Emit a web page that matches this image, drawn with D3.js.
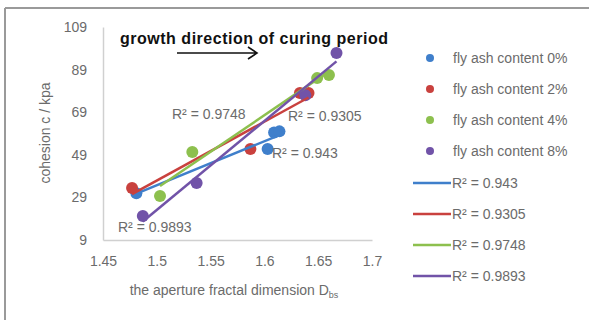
<!DOCTYPE html>
<html>
<head>
<meta charset="utf-8">
<script src="https://cdn.jsdelivr.net/npm/d3@7"></script>
<style>
  body { margin: 0; background: #fff; }
  text { font-family: "Liberation Sans", Arial, sans-serif; }
</style>
</head>
<body>
<div id="chart"></div>
<script>
// series names, colours
var seriesNames = ["fly ash content 0%", "fly ash content 2%", "fly ash content 4%", "fly ash content 8%"];
var seriesColors = ["#3F7FCB", "#C9413E", "#8DC04E", "#7153A8"];
var xValues = [
  [1.481, 1.603, 1.609, 1.614],
  [1.477, 1.587, 1.633, 1.641],
  [1.503, 1.533, 1.649, 1.660],
  [1.487, 1.537, 1.638, 1.667]
];
var yValues = [
  [31.0, 51.7, 59.5, 60.0],
  [33.4, 51.7, 78.0, 78.0],
  [29.7, 50.3, 85.0, 86.5],
  [20.3, 35.8, 77.0, 96.8]
];
var r2Labels = ["R² = 0.943", "R² = 0.9305", "R² = 0.9748", "R² = 0.9893"];
var xTicks = [1.45, 1.5, 1.55, 1.6, 1.65, 1.7];
var yTicks = [9, 29, 49, 69, 89, 109];

var w = 589, h = 320;
var svg = d3.select("#chart").append("svg")
  .attr("width", w)
  .attr("height", h);

// chart frame (only top and left visible)
svg.append("line").attr("x1", 5).attr("y1", 8).attr("x2", w).attr("y2", 8)
  .attr("stroke", "#9a9a9a").attr("stroke-width", 2);
svg.append("line").attr("x1", 5).attr("y1", 8).attr("x2", 5).attr("y2", h)
  .attr("stroke", "#9a9a9a").attr("stroke-width", 2);

var x = d3.scaleLinear().domain([1.45, 1.7]).range([103, 372]);
var y = d3.scaleLinear().domain([9, 109]).range([240, 27]);

// axes
var xAxis = svg.append("g")
  .attr("transform", "translate(0," + y(9) + ")")
  .call(d3.axisBottom(x).tickValues(xTicks).tickSize(0).tickPadding(16)
    .tickFormat(function(d) { return String(d); }));
var yAxis = svg.append("g")
  .attr("transform", "translate(" + x(1.45) + ",0)")
  .call(d3.axisLeft(y).tickValues(yTicks).tickSize(0).tickPadding(16));
[xAxis, yAxis].forEach(function(a) {
  a.select(".domain").attr("stroke", "#d0d0d0").attr("stroke-width", 1.5);
  a.selectAll("text")
    .attr("font-size", 14)
    .attr("fill", "#6b6b6b")
    .attr("font-family", "'Liberation Sans', Arial, sans-serif");
});

// axis titles
svg.append("text")
  .attr("transform", "translate(50,133) rotate(-90)")
  .attr("text-anchor", "middle")
  .attr("font-size", 14)
  .attr("fill", "#6b6b6b")
  .text("cohesion c / kpa");

var xt = svg.append("text")
  .attr("x", 234)
  .attr("y", 295)
  .attr("text-anchor", "middle")
  .attr("font-size", 14)
  .attr("fill", "#6b6b6b");
xt.append("tspan").text("the aperture fractal dimension D");
xt.append("tspan").attr("font-size", 9).attr("dy", 3).text("bs");

// linear fit over each series
function fit(xs, ys) {
  var n = xs.length;
  var mx = d3.mean(xs), my = d3.mean(ys);
  var sxy = 0, sxx = 0;
  for (var i = 0; i < n; i++) {
    sxy += (xs[i] - mx) * (ys[i] - my);
    sxx += (xs[i] - mx) * (xs[i] - mx);
  }
  var b = sxy / sxx;
  return { a: my - b * mx, b: b };
}

// points
for (var s = 0; s < seriesNames.length; s++) {
  svg.append("g").selectAll("circle")
    .data(d3.range(xValues[s].length))
    .enter()
    .append("circle")
    .attr("cx", function(i) { return x(xValues[s][i]); })
    .attr("cy", function(i) { return y(yValues[s][i]); })
    .attr("r", 6)
    .attr("fill", seriesColors[s]);
}

// trendlines
for (var s = 0; s < seriesNames.length; s++) {
  var f = fit(xValues[s], yValues[s]);
  var x0 = d3.min(xValues[s]), x1 = d3.max(xValues[s]);
  svg.append("line")
    .attr("x1", x(x0)).attr("y1", y(f.a + f.b * x0))
    .attr("x2", x(x1)).attr("y2", y(f.a + f.b * x1))
    .attr("stroke", seriesColors[s])
    .attr("stroke-width", 2.5);
}

// R² labels in the plot
var r2Pos = [[272, 158], [288, 121], [172, 119], [118, 232]];
for (var s = 0; s < r2Labels.length; s++) {
  svg.append("text")
    .attr("x", r2Pos[s][0])
    .attr("y", r2Pos[s][1])
    .attr("font-size", 14)
    .attr("fill", "#6b6b6b")
    .text(r2Labels[s]);
}

// title and arrow
svg.append("text")
  .attr("x", 120)
  .attr("y", 44)
  .attr("font-size", 16)
  .attr("font-weight", 600)
  .attr("fill", "#111")
  .attr("font-family", "'DejaVu Sans', sans-serif")
  .attr("textLength", 268)
  .text("growth direction of curing period");
svg.append("path")
  .attr("d", "M177,53 L257,53 M248,47 L257,53 L248,59")
  .attr("fill", "none")
  .attr("stroke", "#111")
  .attr("stroke-width", 1.6);

// legend
var lg = svg.append("g");
for (var s = 0; s < seriesNames.length; s++) {
  var ly = 58 + s * 31;
  lg.append("circle").attr("cx", 430).attr("cy", ly).attr("r", 4).attr("fill", seriesColors[s]);
  lg.append("text").attr("x", 453).attr("y", ly + 5)
    .attr("font-size", 14).attr("fill", "#6b6b6b").text(seriesNames[s]);
}
for (var s = 0; s < r2Labels.length; s++) {
  var ly = 183 + s * 31;
  lg.append("line").attr("x1", 413).attr("x2", 451).attr("y1", ly).attr("y2", ly)
    .attr("stroke", seriesColors[s]).attr("stroke-width", 2.5);
  lg.append("text").attr("x", 452).attr("y", ly + 5)
    .attr("font-size", 14).attr("fill", "#6b6b6b").text(r2Labels[s]);
}
</script>
</body>
</html>
